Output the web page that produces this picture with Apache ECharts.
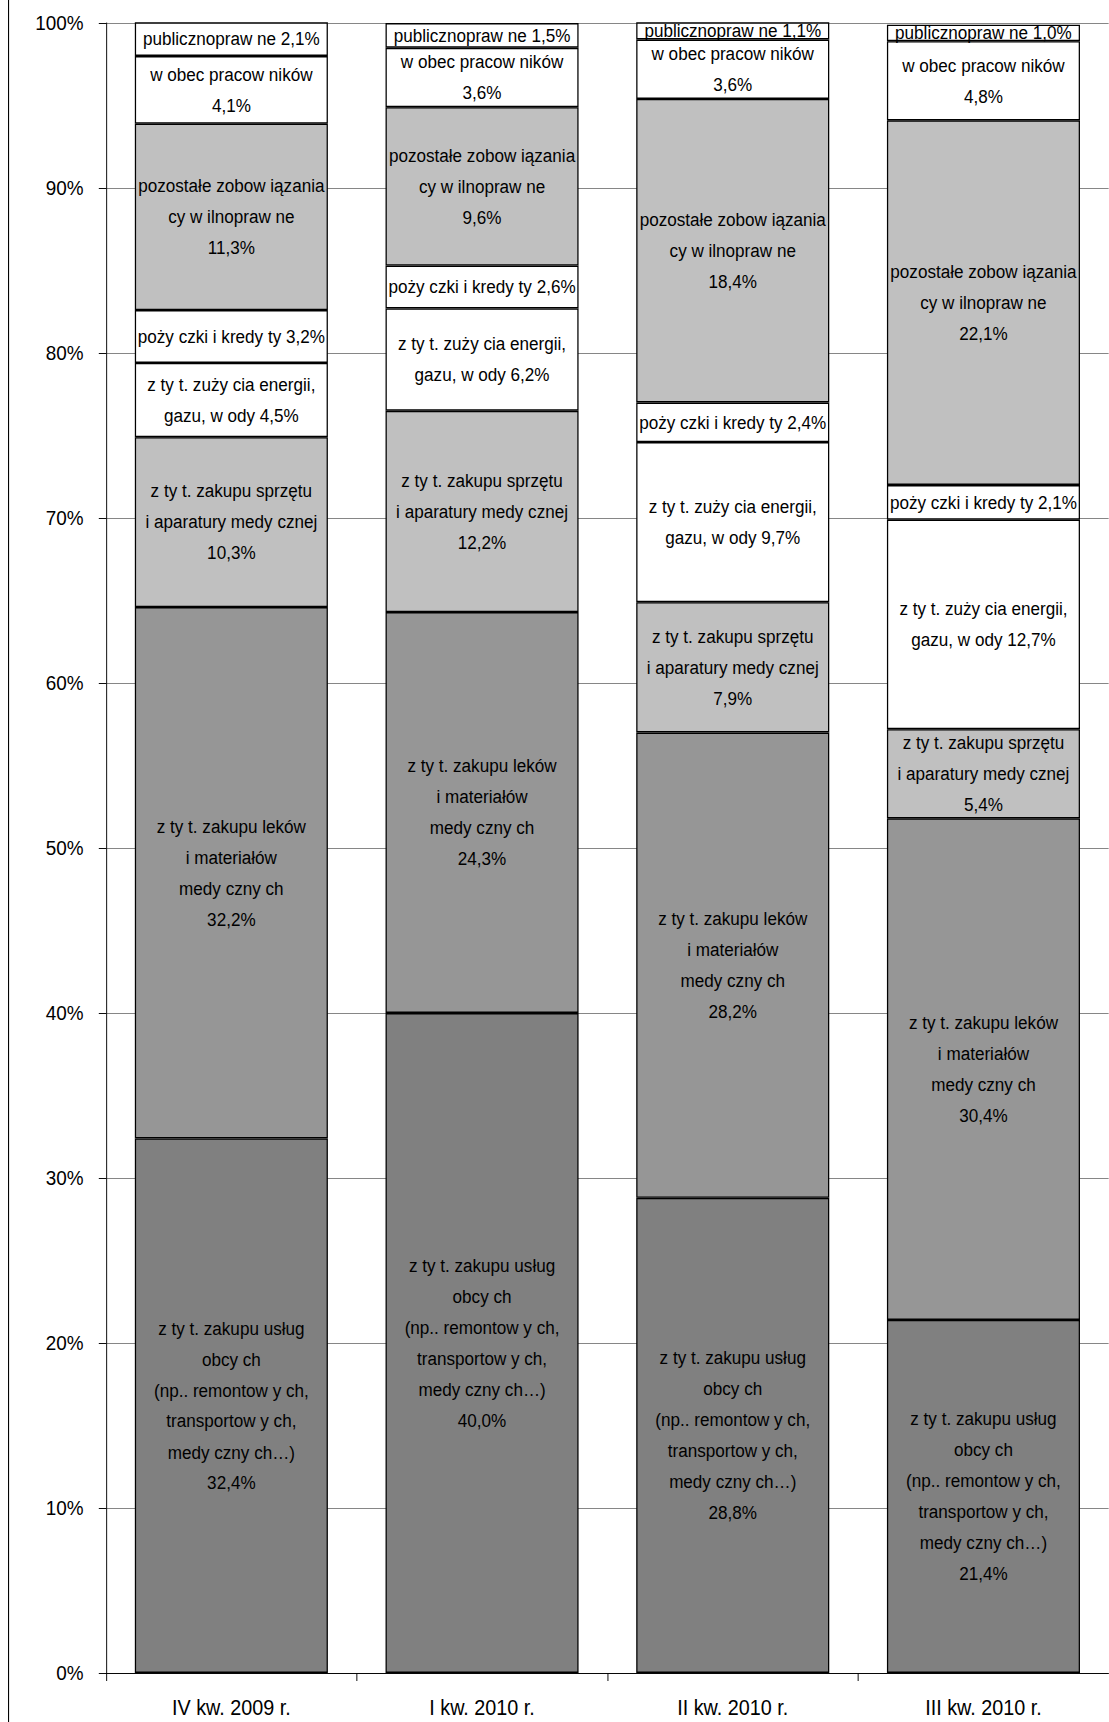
<!DOCTYPE html>
<html>
<head>
<meta charset="utf-8">
<script src="https://cdn.jsdelivr.net/npm/echarts@6/dist/echarts.min.js"></script>
<style>
html,body{margin:0;padding:0;background:#fff;overflow:hidden;width:1109px;height:1722px;}
#chart{width:1232px;height:1722px;transform:scaleX(0.9);transform-origin:0 0;}
</style>
</head>
<body>
<div id="chart"></div>
<script>
const categories = ['IV kw. 2009 r.', 'I kw. 2010 r.', 'II kw. 2010 r.', 'III kw. 2010 r.'];
const yTicks = [0, 10, 20, 30, 40, 50, 60, 70, 80, 90, 100];

const uslugObcych      = [32.4, 40.0, 28.8, 21.4];
const lekowMaterialow  = [32.2, 24.3, 28.2, 30.4];
const sprzetuAparatury = [10.3, 12.2, 7.9, 5.4];
const energiiGazuWody  = [4.5, 6.2, 9.7, 12.7];
const pozyczkiKredyty  = [3.2, 2.6, 2.4, 2.1];
const pozostaleCywilne = [11.3, 9.6, 18.4, 22.1];
const wobecPracownikow = [4.1, 3.6, 3.6, 4.8];
const publicznoprawne  = [2.1, 1.5, 1.1, 1.0];

const seriesNames = [
  'z ty t. zakupu usług\nobcy ch\n(np.. remontow y ch,\ntransportow y ch,\nmedy czny ch…)',
  'z ty t. zakupu leków\ni materiałów\nmedy czny ch',
  'z ty t. zakupu sprzętu\ni aparatury medy cznej',
  'z ty t. zuży cia energii,\ngazu, w ody',
  'poży czki i kredy ty',
  'pozostałe zobow iązania\ncy w ilnopraw ne',
  'w obec pracow ników',
  'publicznopraw ne'
];
const valueSeparators = ['\n', '\n', '\n', ' ', ' ', '\n', '\n', ' '];
const seriesData = [uslugObcych, lekowMaterialow, sprzetuAparatury, energiiGazuWody,
                    pozyczkiKredyty, pozostaleCywilne, wobecPracownikow, publicznoprawne];
const seriesColors = ['#808080', '#969696', '#c0c0c0', '#ffffff', '#ffffff', '#c0c0c0', '#ffffff', '#ffffff'];

const FONT = "'Liberation Sans', Arial, sans-serif";
const SX = 0.9; // horizontal squeeze of the reference picture

const chart = echarts.init(document.getElementById('chart'), null, {renderer: 'svg'});

const series = seriesData.map((arr, i) => ({
  name: seriesNames[i],
  type: 'bar',
  stack: 'total',
  barWidth: '77%',
  data: arr,
  itemStyle: {color: seriesColors[i], borderColor: '#000', borderWidth: 1.4},
  label: {
    show: true,
    position: 'inside',
    color: '#000',
    fontFamily: FONT,
    fontSize: 19,
    lineHeight: 31,
    formatter: p => seriesNames[i] + valueSeparators[i] + p.value.toFixed(1).replace('.', ',') + '%'
  },
  emphasis: {disabled: true}
}));

chart.setOption({
  animation: false,
  backgroundColor: '#fff',
  graphic: [{
    type: 'line',
    shape: {x1: 9.5, y1: 0, x2: 9.5, y2: 1722},
    style: {stroke: '#000', lineWidth: 1.2}
  }],
  grid: {left: 106 / SX, top: 23, width: 1016 / SX, height: 1650, containLabel: false},
  xAxis: {
    type: 'category',
    data: categories,
    boundaryGap: true,
    axisLine: {show: true, lineStyle: {color: '#000', width: 1}},
    axisTick: {show: true, alignWithLabel: false, length: 8, lineStyle: {color: '#000'}},
    axisLabel: {color: '#000', fontFamily: FONT, fontSize: 22, margin: 23},
    splitLine: {show: false}
  },
  yAxis: {
    type: 'value',
    min: yTicks[0],
    max: yTicks[yTicks.length - 1],
    interval: 10,
    axisLine: {show: true, lineStyle: {color: '#000', width: 1}},
    axisTick: {show: true, length: 8, lineStyle: {color: '#000'}},
    axisLabel: {color: '#000', fontFamily: FONT, fontSize: 21, margin: 25, formatter: '{value}%'},
    splitLine: {show: true, lineStyle: {color: '#808080', width: 1}}
  },
  series: series
});
</script>
</body>
</html>
